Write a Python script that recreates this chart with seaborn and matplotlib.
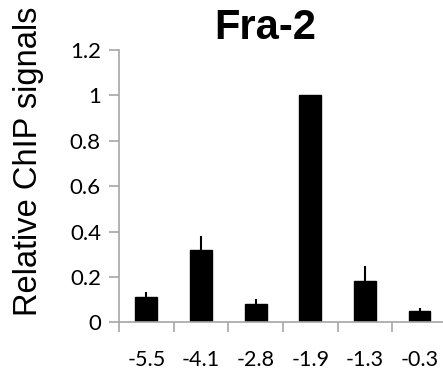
import numpy as np
import pandas as pd
import matplotlib
matplotlib.use("Agg")
import matplotlib.pyplot as plt
import seaborn as sns

# data
positions = ["-5.5", "-4.1", "-2.8", "-1.9", "-1.3", "-0.3"]
signals = [0.113, 0.32, 0.082, 1.0, 0.18, 0.05]
errors = [0.022, 0.06, 0.022, 0.0, 0.067, 0.012]

df = pd.DataFrame({"pos": positions, "signal": signals})

sns.set_style("white")
plt.rcParams["font.family"] = ["Liberation Sans", "DejaVu Sans"]

fig = plt.figure(figsize=(4.43, 3.74), dpi=100)
ax = fig.add_axes([119 / 443, 51.7 / 374, 324 / 443, 272.3 / 374])

sns.barplot(data=df, x="pos", y="signal", color="black", width=0.4,
            saturation=1, errorbar=None, ax=ax)
for p in ax.patches:
    p.set_edgecolor("black")

x = np.arange(len(positions))
ax.errorbar(x, signals, yerr=[np.zeros(len(errors)), errors], fmt="none",
            ecolor="black", elinewidth=1.5, capsize=0)

ax.set_xlim(-0.5, 5.43)
ax.set_ylim(0, 1.2)
ax.set_yticks([0, 0.2, 0.4, 0.6, 0.8, 1.0, 1.2])
ax.set_yticklabels(["0", "0.2", "0.4", "0.6", "0.8", "1", "1.2"])

# category boundaries as tick marks, labels at the centres
ax.set_xticks(np.arange(-0.5, 5.5, 1.0))
ax.set_xticklabels([])
ax.set_xticks(x, minor=True)
ax.set_xticklabels(positions, minor=True)
ax.tick_params(axis="x", which="major", length=7, width=1.2, color="#a6a6a6",
               direction="out", bottom=True)
ax.tick_params(axis="x", which="minor", length=0, pad=20, labelsize=15.5,
               labelcolor="black")
ax.tick_params(axis="y", length=7, width=1.2, color="#a6a6a6", direction="out",
               left=True, pad=6, labelsize=16, labelcolor="black")
for lab in ax.get_xticklabels(minor=True) + ax.get_yticklabels():
    lab.set_family(["Lato", "DejaVu Sans"])

sns.despine(ax=ax)
for s in ["left", "bottom"]:
    ax.spines[s].set_color("#a6a6a6")
    ax.spines[s].set_linewidth(1.2)

ax.set_xlabel("")
ax.set_ylabel("")
fig.text(29 / 443, 1 - 161.5 / 374, "Relative ChIP signals", rotation=90,
         ha="center", va="center", fontsize=23.5, color="black")

fig.text(265 / 443, 1 - 28 / 374, "Fra-2", ha="center", va="center",
         fontsize=30, fontweight="bold", color="black")

fig.savefig("out.png", dpi=100)
